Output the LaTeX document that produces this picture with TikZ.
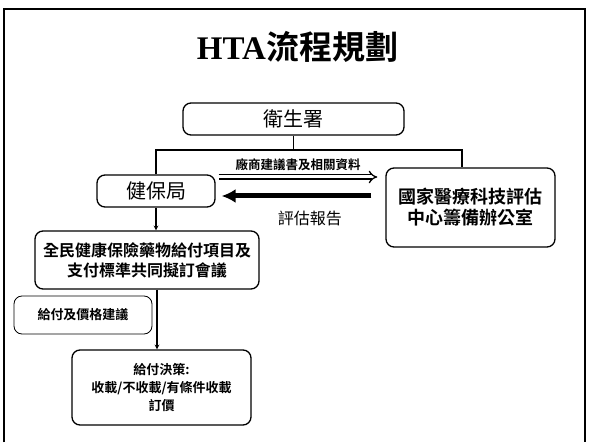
\documentclass[tikz,border=0pt]{standalone}
\usepackage{fontspec}
\setmainfont{Liberation Serif}
\newfontfamily\cjk{Noto Sans CJK TC}[BoldFont={* Bold}]
\usetikzlibrary{arrows.meta,calc}

\begin{document}
\begin{tikzpicture}[x=1pt,y=1pt,
    box/.style={draw,rounded corners=8pt,line width=1.3pt,align=center,inner sep=0pt},
    note/.style={font=\cjk\bfseries\fontsize{12.5}{15}\selectfont},
    link/.style={line width=1.1pt}]
  \useasboundingbox (0,0) rectangle (589,442);
  \draw[line width=1.2pt] (4,0) -- (4,433) -- (585,433) -- (585,0);
  \draw[line width=2.6pt] (4,0) -- (4,433);
  \node (title) at (297.5,395) {\fontsize{33}{36}\selectfont\bfseries HTA{\cjk 流程規劃}};
  \node[box,minimum width=221,minimum height=32,font=\cjk\fontsize{20}{22}\selectfont] (weisheng) at (293.5,323) {衛生署};
  \node[box,minimum width=118,minimum height=32,font=\cjk\fontsize{20}{22}\selectfont] (jbj) at (156,251) {健保局};
  \node[box,minimum width=169,minimum height=79,font=\cjk\bfseries\fontsize{18}{21}\selectfont] (nhta) at (470.5,234.5) {國家醫療科技評估\\中心籌備辦公室};
  \node[box,minimum width=224,minimum height=58,font=\cjk\bfseries\fontsize{16}{20}\selectfont] (quanmin) at (147,182) {全民健康保險藥物給付項目及\\支付標準共同擬訂會議};
  \node[box,line width=0.8pt,minimum width=138,minimum height=38,font=\cjk\bfseries\fontsize{13}{15}\selectfont] (jianyi) at (83,127) {給付及價格建議};
  \node[box,minimum width=179,minimum height=75,font=\cjk\bfseries\fontsize{13}{18}\selectfont] (juece) at (161.5,54.5) {給付決策:\\收載/不收載/有條件收載\\訂價};

  \coordinate (bus) at (0,292);
  \draw[link] (weisheng.south) -- (weisheng.south |- bus);
  \draw[link] (jbj.north) |- ([xshift=-8.5pt]nhta.north |- bus) -- ([xshift=-8.5pt]nhta.north);
  \draw[link,-stealth] (jbj.south) -- (jbj.south |- quanmin.north);
  \draw[link,-stealth] ([xshift=10pt]quanmin.south) -- ([xshift=10pt]quanmin.south |- juece.north);
  \draw[double,double distance=3pt,line width=1.3pt,-{Implies}] ($(jbj.east)+(3,14)$) -- ($(jbj.east -| nhta.west)+(-8,14)$)
    node[midway,above=2.5pt,note] {廠商建議書及相關資料};
  \draw[line width=5pt,-{Latex[length=14pt,width=14pt]}] ($(jbj.east -| nhta.west)+(-14,-5)$) -- ($(jbj.east)+(6,-5)$)
    node[pos=0.41,below=9pt,font=\cjk\fontsize{16}{18}\selectfont] {評估報告};
\end{tikzpicture}
\end{document}
